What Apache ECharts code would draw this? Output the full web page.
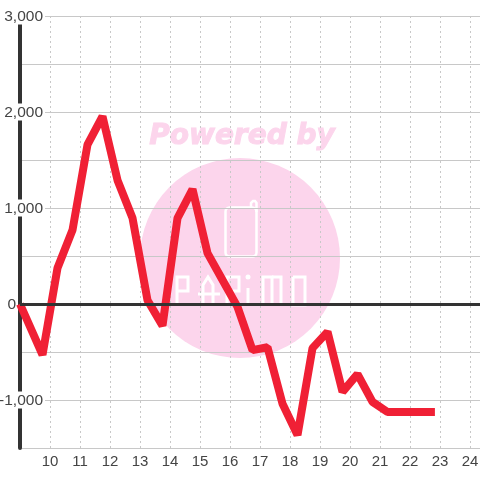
<!DOCTYPE html>
<html><head><meta charset="utf-8">
<style>html,body{margin:0;padding:0;background:#fff}#c{width:480px;height:480px}</style>
<script src="https://cdn.jsdelivr.net/npm/echarts@6/dist/echarts.min.js"></script>
</head><body><div id="c"></div>
<script>
const hours = [9, 9.75, 10.25, 10.75, 11.25, 11.75, 12.25, 12.75, 13.25, 13.75, 14.25, 14.75, 15.25, 15.75, 16.25, 16.75, 17.25, 17.75, 18.25, 18.75, 19.25, 19.75, 20.25, 20.75, 21.25, 21.75, 22.25, 22.83];
const values = [0, -530, 375, 770, 1660, 1955, 1290, 895, 40, -225, 895, 1195, 530, 250, -30, -480, -450, -1040, -1365, -460, -290, -915, -730, -1020, -1125, -1125, -1125, -1125];
const watermarkTitle = 'Powered by';
const pink = '#fcd5ec';
const logoStrokes = [
  [[177,305],[177,277],[188,277],[188,291],[177,291]],
  [[203,305],[203,285],[208,277],[213,285],[213,305]],
  [[198,294],[220,294]],
  [[227,305],[227,277],[239,277],[239,291],[227,291],[239,305]],
  [[248,288],[248,305]],
  [[263,305],[263,277],[272,277],[272,305]],
  [[272,277],[281,277],[281,305]],
  [[293,277],[305,277],[305,305],[293,305],[293,277]]
];
const chart = echarts.init(document.getElementById('c'), null, {renderer:'canvas'});
const font = '"Liberation Sans", Arial, sans-serif';
chart.setOption({
  animation:false,
  backgroundColor:'#fff',
  grid:{left:20,right:0,top:16,bottom:32,outerBoundsMode:'none',containLabel:false},
  graphic:[
    {type:'circle',z:-1,shape:{cx:240,cy:258,r:100},style:{fill:pink}},
    {type:'text',z:-1,x:242,y:137,style:{text:watermarkTitle,fill:pink,stroke:pink,lineWidth:1,font:'italic bold 28px "DejaVu Sans"',textAlign:'center',textVerticalAlign:'middle'}},
    {type:'rect',z:-1,shape:{x:225.5,y:207.5,width:31,height:49,r:4},style:{fill:'none',stroke:'#fff',lineWidth:2.5}},
    {type:'polyline',z:-1,shape:{points:[[251,208],[251,203],[253,201],[255,201],[256.5,203],[256.5,212]]},style:{fill:'none',stroke:'#fff',lineWidth:2.5}}
  ].concat(logoStrokes.map(p=>({type:'polyline',z:-1,shape:{points:p},style:{fill:'none',stroke:'#fff',lineWidth:3}})),
    [{type:'circle',z:-1,shape:{cx:248,cy:277,r:2.5},style:{fill:'#fff'}}]),
  xAxis:{type:'value',min:9,max:24.333,interval:1,
    axisLine:{show:false},axisTick:{show:false},
    axisLabel:{color:'#444',fontSize:15,fontFamily:font,margin:6,showMinLabel:false,
      formatter:v=>(Number.isInteger(v)&&v>9)?String(v):''},
    splitLine:{show:true,lineStyle:{color:'#c8c8c8',type:[2,3],width:1}}},
  yAxis:{type:'value',min:-1500,max:3000,interval:500,
    axisLine:{show:true,onZero:false,lineStyle:{color:'#333',width:4}},axisTick:{show:false},
    axisLabel:{margin:-25,fontFamily:font,fontSize:15.5,color:'#444',
      formatter:v=>{
        if(v%1000!==0) return '';
        if(v===0) return '{z|0}';
        return '{a|'+v.toLocaleString('en-US')+'}';
      },
      rich:{a:{backgroundColor:'#fff',color:'#444',fontSize:15.5,fontFamily:font,padding:[1,2,0,0]},
            z:{color:'#444',fontSize:15.5,fontFamily:font,padding:[1,29,0,0]}}},
    splitLine:{show:true,lineStyle:{color:'#c8c8c8',width:1}}},
  series:[
    {type:'line',z:1,silent:true,data:[],markLine:{silent:true,symbol:'none',label:{show:false},
      lineStyle:{color:'#333',width:3,type:'solid'},data:[{yAxis:0}]}},
    {type:'line',z:3,data:hours.map((h,i)=>[h,values[i]]),showSymbol:false,symbol:'none',
      lineStyle:{color:'#f02035',width:8,join:'bevel',cap:'butt'}}
  ]
});
</script></body></html>
